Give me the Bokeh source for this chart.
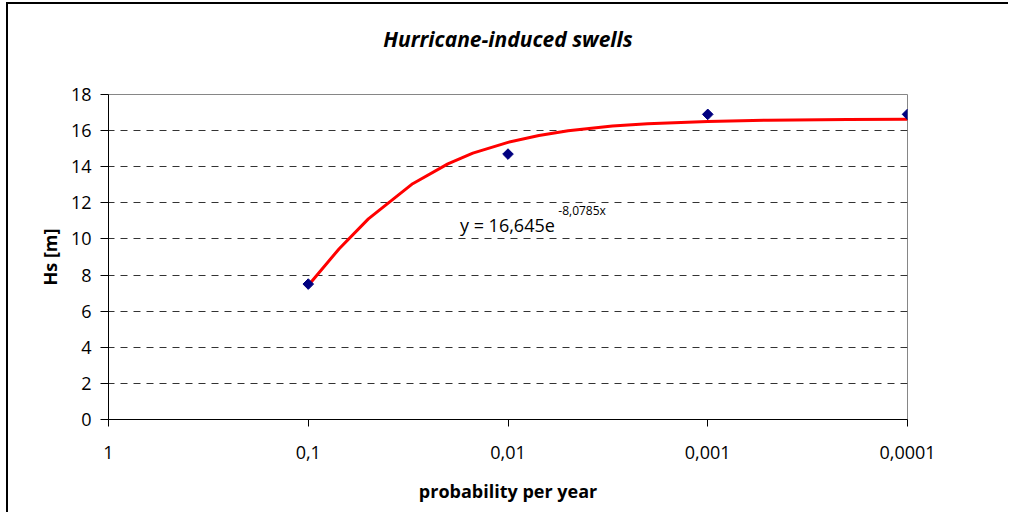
from bokeh.plotting import figure
from bokeh.models import Range1d, FixedTicker, Label
from bokeh.embed import file_html
from bokeh.resources import INLINE
import math

# ---- data ----
prob = [0.1, 0.01, 0.001, 0.0001]
hs = [7.5, 14.7, 16.9, 16.9]

trend_x = [0.1, 0.07, 0.05, 0.03, 0.02, 0.015, 0.01, 0.007, 0.005, 0.003,
           0.002, 0.001, 0.0005, 0.0002, 0.0001]
trend_y = [7.42, 9.46, 11.11, 13.06, 14.16, 14.75, 15.35, 15.73, 15.99, 16.25,
           16.38, 16.51, 16.58, 16.62, 16.63]

x_ticks = [1, 0.1, 0.01, 0.001, 0.0001]
x_tick_labels = ["1", "0,1", "0,01", "0,001", "0,0001"]
y_ticks = [0, 2, 4, 6, 8, 10, 12, 14, 16, 18]
grid_ticks = [2, 4, 6, 8, 10, 12, 14, 16]
title_text = "Hurricane-induced swells"

FONT = "Open Sans"

p = figure(width=1000, height=508, x_axis_type="log",
           x_range=Range1d(1, 0.0001), y_range=Range1d(0, 18),
           output_backend="svg", toolbar_location=None,
           min_border_left=100, min_border_right=103,
           min_border_top=90, min_border_bottom=95,
           background_fill_color="white", border_fill_color="white")

# outer chart border (only top and left edges are inside the window)
p.margin = (2, 0, 0, 6)
p.styles = {"border-top": "2px solid black", "border-left": "2px solid black",
            "box-sizing": "content-box"}

# title; an empty second line lifts it away from the plot area
p.title.text = title_text + "\n "
p.title.align = "center"
p.title.offset = 6
p.title.text_font = FONT
p.title.text_font_style = "bold italic"
p.title.text_font_size = "21px"
p.title.text_color = "black"
p.title.standoff = 27

p.outline_line_color = "#868686"
p.outline_line_width = 1

# x axis
xa = p.xaxis[0]
xa.ticker = FixedTicker(ticks=x_ticks)
xa.major_label_overrides = {t: l for t, l in zip(x_ticks, x_tick_labels)}
xa.axis_line_color = "black"
xa.major_tick_line_color = "black"
xa.major_tick_in = 0
xa.major_tick_out = 7
xa.minor_tick_line_color = None
xa.major_label_text_font = FONT
xa.major_label_text_font_size = "18px"
xa.major_label_text_color = "black"
xa.major_label_standoff = 19
xa.axis_label = "probability per year"
xa.axis_label_text_font = FONT
xa.axis_label_text_font_size = "18px"
xa.axis_label_text_font_style = "bold"
xa.axis_label_text_color = "black"
xa.axis_label_standoff = 17

# y axis
ya = p.yaxis[0]
ya.ticker = FixedTicker(ticks=y_ticks)
ya.axis_line_color = "black"
ya.major_tick_line_color = "black"
ya.major_tick_in = 0
ya.major_tick_out = 8
ya.minor_tick_line_color = None
ya.major_label_text_font = FONT
ya.major_label_text_font_size = "18px"
ya.major_label_text_color = "black"
ya.major_label_standoff = 9
ya.axis_label = "Hs [m]"
ya.axis_label_text_font = FONT
ya.axis_label_text_font_size = "18px"
ya.axis_label_text_font_style = "bold"
ya.axis_label_text_color = "black"
ya.axis_label_standoff = 6

# grids
p.xgrid.visible = False
p.ygrid.ticker = FixedTicker(ticks=grid_ticks)
p.ygrid.grid_line_color = "#333333"
p.ygrid.grid_line_dash = "7 6"
p.ygrid.grid_line_width = 1

# trend line and points
p.line(trend_x, trend_y, line_color="#FF0000", line_width=3)
p.scatter(prob, hs, marker="square", size=7.5, angle=math.pi / 4,
          fill_color="#000080", line_color="#000080")

# equation
p.add_layout(Label(x=0.0174, y=10.8, text="y = 16,645e", text_baseline="middle",
                   text_font=FONT, text_font_size="18px", text_color="black"))
p.add_layout(Label(x=0.0056, y=11.6, text="-8,0785x", text_baseline="middle",
                   text_font=FONT, text_font_size="12px", text_color="black"))

open("out.html", "w").write(file_html(p, INLINE))
